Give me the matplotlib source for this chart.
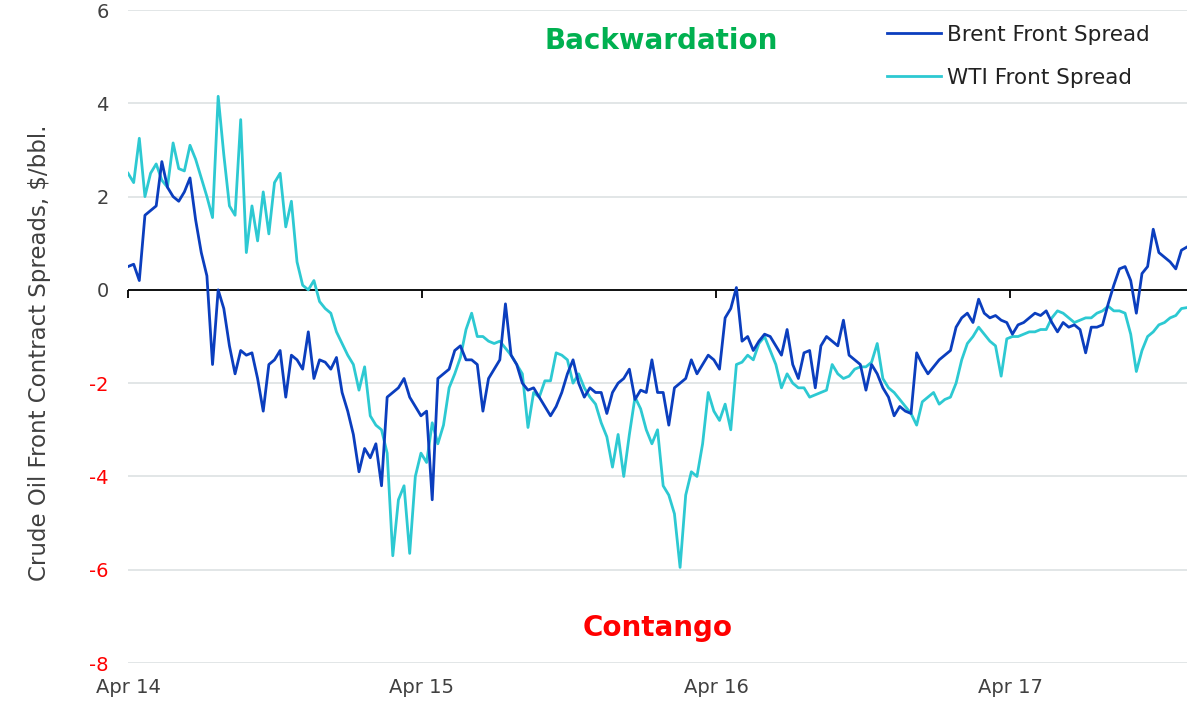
import pandas as pd
import matplotlib
matplotlib.use("Agg")
import matplotlib.pyplot as plt
from matplotlib.markers import TICKDOWN

# weekly readings, first week of Apr 2014 onwards ($/bbl)
brent = [
    0.5, 0.55, 0.2, 1.6, 1.7, 1.8, 2.75, 2.2, 2.0, 1.9,
    2.1, 2.4, 1.5, 0.8, 0.3, -1.6, 0.0, -0.4, -1.2, -1.8,
    -1.3, -1.4, -1.35, -1.9, -2.6, -1.6, -1.5, -1.3, -2.3, -1.4,
    -1.5, -1.7, -0.9, -1.9, -1.5, -1.55, -1.7, -1.45, -2.2, -2.6,
    -3.1, -3.9, -3.4, -3.6, -3.3, -4.2, -2.3, -2.2, -2.1, -1.9,
    -2.3, -2.5, -2.7, -2.6, -4.5, -1.9, -1.8, -1.7, -1.3, -1.2,
    -1.5, -1.5, -1.6, -2.6, -1.9, -1.7, -1.5, -0.3, -1.4, -1.6,
    -2.0, -2.15, -2.1, -2.3, -2.5, -2.7, -2.5, -2.2, -1.8, -1.5,
    -2.0, -2.3, -2.1, -2.2, -2.2, -2.65, -2.2, -2.0, -1.9, -1.7,
    -2.35, -2.15, -2.2, -1.5, -2.2, -2.2, -2.9, -2.1, -2.0, -1.9,
    -1.5, -1.8, -1.6, -1.4, -1.5, -1.7, -0.6, -0.4, 0.05, -1.1,
    -1.0, -1.3, -1.1, -0.95, -1.0, -1.2, -1.4, -0.85, -1.6, -1.9,
    -1.35, -1.3, -2.1, -1.2, -1.0, -1.1, -1.2, -0.65, -1.4, -1.5,
    -1.6, -2.15, -1.6, -1.8, -2.1, -2.3, -2.7, -2.5, -2.6, -2.65,
    -1.35, -1.6, -1.8, -1.65, -1.5, -1.4, -1.3, -0.8, -0.6, -0.5,
    -0.7, -0.2, -0.5, -0.6, -0.55, -0.65, -0.7, -0.95, -0.75, -0.7,
    -0.6, -0.5, -0.55, -0.45, -0.7, -0.9, -0.7, -0.8, -0.75, -0.85,
    -1.35, -0.8, -0.8, -0.75, -0.3, 0.1, 0.45, 0.5, 0.2, -0.5,
    0.35, 0.5, 1.3, 0.8, 0.7, 0.6, 0.45, 0.85, 0.92,
]
wti = [
    2.5, 2.3, 3.25, 2.0, 2.5, 2.7, 2.35, 2.2, 3.15, 2.6,
    2.55, 3.1, 2.8, 2.4, 2.0, 1.55, 4.15, 2.9, 1.8, 1.6,
    3.65, 0.8, 1.8, 1.05, 2.1, 1.2, 2.3, 2.5, 1.35, 1.9,
    0.6, 0.1, 0.0, 0.2, -0.25, -0.4, -0.5, -0.9, -1.15, -1.4,
    -1.6, -2.15, -1.65, -2.7, -2.9, -3.0, -3.5, -5.7, -4.5, -4.2,
    -5.65, -4.0, -3.5, -3.7, -2.85, -3.3, -2.9, -2.1, -1.8, -1.45,
    -0.85, -0.5, -1.0, -1.0, -1.1, -1.15, -1.1, -1.25, -1.4, -1.6,
    -1.8, -2.95, -2.2, -2.3, -1.95, -1.95, -1.35, -1.4, -1.5, -2.0,
    -1.8, -2.1, -2.3, -2.45, -2.85, -3.15, -3.8, -3.1, -4.0, -3.1,
    -2.3, -2.55, -3.0, -3.3, -3.0, -4.2, -4.4, -4.8, -5.95, -4.4,
    -3.9, -4.0, -3.3, -2.2, -2.6, -2.8, -2.45, -3.0, -1.6, -1.55,
    -1.4, -1.5, -1.15, -1.0, -1.3, -1.6, -2.1, -1.8, -2.0, -2.1,
    -2.1, -2.3, -2.25, -2.2, -2.15, -1.6, -1.8, -1.9, -1.85, -1.7,
    -1.65, -1.65, -1.55, -1.15, -1.9, -2.1, -2.2, -2.35, -2.5, -2.65,
    -2.9, -2.4, -2.3, -2.2, -2.45, -2.35, -2.3, -2.0, -1.5, -1.15,
    -1.0, -0.8, -0.95, -1.1, -1.2, -1.85, -1.05, -1.0, -1.0, -0.95,
    -0.9, -0.9, -0.85, -0.85, -0.6, -0.45, -0.5, -0.6, -0.7, -0.65,
    -0.6, -0.6, -0.5, -0.45, -0.35, -0.45, -0.45, -0.5, -0.95, -1.75,
    -1.3, -1.0, -0.9, -0.75, -0.7, -0.6, -0.55, -0.4, -0.38,
]
dates = pd.date_range("2014-04-01", periods=len(brent), freq="7D")

tick_dates = pd.to_datetime(["2014-04-01", "2015-04-01", "2016-04-01", "2017-04-01"])
tick_labels = ["Apr 14", "Apr 15", "Apr 16", "Apr 17"]
y_ticks = [-8, -6, -4, -2, 0, 2, 4, 6]

plt.rcParams["font.family"] = ["DejaVu Sans"]

fig = plt.figure(figsize=(12, 7.15), dpi=100)
ax = fig.add_axes([0.1067, 0.0727, 0.8825, 0.9133])

ax.plot(dates, brent, color="#0B3EBE", lw=2.0, label="Brent Front Spread", zorder=3)
ax.plot(dates, wti, color="#2DC9D2", lw=2.0, label="WTI Front Spread", zorder=2)

ax.set_xlim(dates[0], dates[-1])
ax.set_ylim(-8, 6)
ax.set_yticks(y_ticks)
ax.set_yticklabels([str(v) for v in y_ticks])
for lbl, v in zip(ax.get_yticklabels(), y_ticks):
    lbl.set_color("red" if v < 0 else "#404040")
ax.grid(axis="y", color="#DDE1E3", lw=1.2)
ax.set_axisbelow(True)
for s in ax.spines.values():
    s.set_visible(False)

ax.set_xticks(tick_dates)
ax.set_xticklabels(tick_labels)
ax.tick_params(axis="x", length=0, pad=11, labelsize=14, labelcolor="#404040")
ax.tick_params(axis="y", length=0, pad=14, labelsize=14)

# zero line with small ticks hanging below it
ax.axhline(0, color="black", lw=1.3, zorder=1)
ax.plot(tick_dates, [0] * len(tick_dates), ls="none", marker=TICKDOWN,
        ms=6, mew=1.3, color="black", zorder=1, clip_on=False)

ax.set_ylabel("Crude Oil Front Contract Spreads, $/bbl.", fontsize=16.5, color="#404040")
ax.yaxis.set_label_coords(-0.073, 0.475)

ax.text(0.503, 0.953, "Backwardation", transform=ax.transAxes, ha="center", va="center",
        fontsize=20, fontweight="bold", color="#00B050")
ax.text(0.5, 0.053, "Contango", transform=ax.transAxes, ha="center", va="center",
        fontsize=20, fontweight="bold", color="#FF0000")

ax.legend(loc="upper left", bbox_to_anchor=(0.717, 0.977), frameon=False,
          fontsize=15.5, handlelength=2.5, handletextpad=0.25, labelspacing=1.05,
          borderpad=0, borderaxespad=0, labelcolor="#222222")

fig.savefig("out.png", dpi=100)
